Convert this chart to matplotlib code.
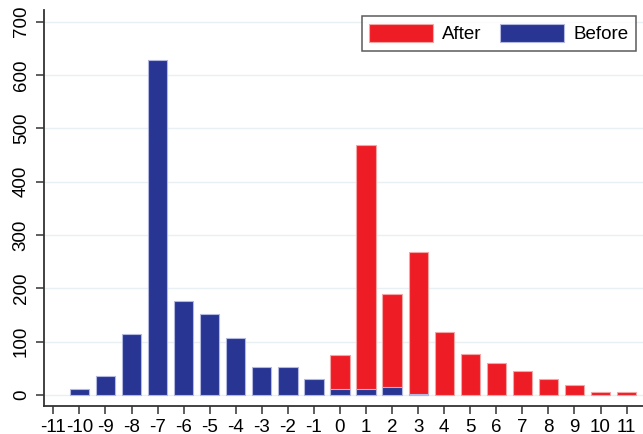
import matplotlib.pyplot as plt

positions = list(range(-11, 12))
after_x = [0, 1, 2, 3, 4, 5, 6, 7, 8, 9, 10, 11]
after_vals = [75, 469, 190, 268, 117, 76, 59, 44, 29, 19, 6, 6]
before_x = [-10, -9, -8, -7, -6, -5, -4, -3, -2, -1, 0, 1, 2, 3]
before_vals = [11, 36, 114, 628, 176, 152, 107, 53, 52, 29, 10, 10, 14, 2]

plt.rcParams['font.family'] = ['Liberation Sans', 'DejaVu Sans']
plt.rcParams['axes.unicode_minus'] = False

fig = plt.figure(figsize=(6.43, 4.34), dpi=100)
ax = fig.add_axes([0.068, 0.0645, 0.932, 0.9125])

ax.bar(after_x, after_vals, width=0.74, color='#ee1c25', edgecolor='#f6a5a5',
       linewidth=0.8, label='After', zorder=2)
ax.bar(before_x, before_vals, width=0.74, color='#283593', edgecolor='#b3b8e0',
       linewidth=0.8, label='Before', zorder=3)

ax.set_xlim(-11.37, 11.63)
ax.set_ylim(-21, 722)
ax.set_xticks(positions)
ax.set_yticks(range(0, 701, 100))
ax.set_yticklabels([str(v) for v in range(0, 701, 100)], rotation=90, va='center')
ax.tick_params(axis='both', labelsize=13.5, length=6, width=1.1, color='#333333')
ax.tick_params(axis='y', pad=4)
ax.tick_params(axis='x', pad=3)
ax.grid(axis='y', color='#e8f0f4', linewidth=1.0, zorder=0)
ax.set_axisbelow(True)

for s in ['top', 'right']:
    ax.spines[s].set_visible(False)
for s in ['left', 'bottom']:
    ax.spines[s].set_linewidth(1.3)
    ax.spines[s].set_color('#333333')

leg = ax.legend(loc='upper right', ncol=2, fontsize=13.5, frameon=True, fancybox=False,
                edgecolor='#333333', handlelength=3.4, handleheight=1.1,
                handletextpad=0.5, columnspacing=1.0, borderpad=0.4,
                borderaxespad=0.3, bbox_to_anchor=(0.998, 0.998))
leg.get_frame().set_linewidth(1.1)

fig.savefig('out.png', dpi=100)
